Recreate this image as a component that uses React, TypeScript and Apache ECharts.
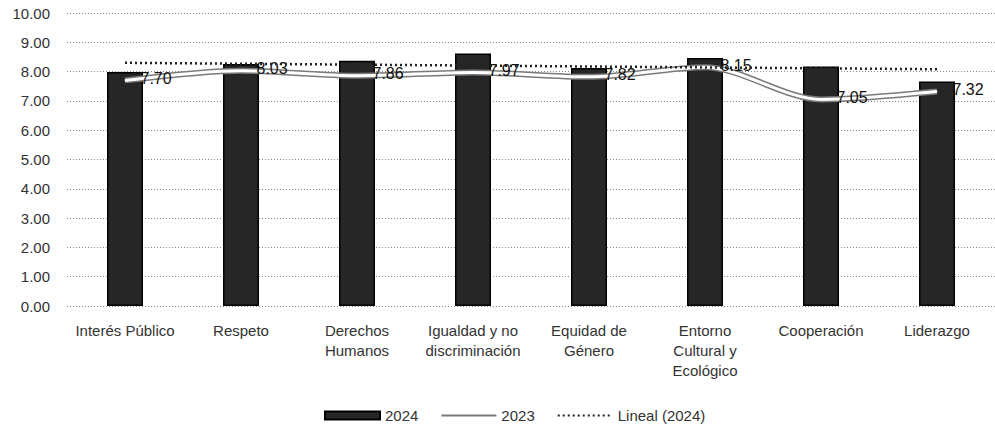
import React, { useEffect, useRef } from "react";
import * as echarts from "echarts";

const categories = [
  "Interés Público",
  "Respeto",
  "Derechos\nHumanos",
  "Igualdad y no\ndiscriminación",
  "Equidad de\nGénero",
  "Entorno\nCultural y\nEcológico",
  "Cooperación",
  "Liderazgo",
];
const values2024 = [7.99, 8.26, 8.37, 8.62, 8.12, 8.46, 8.17, 7.66];
const values2023 = [7.7, 8.03, 7.86, 7.97, 7.82, 8.15, 7.05, 7.32];
// Linear trend of 2024 read at its two ends
const trend2024: (number | null)[] = [8.3, null, null, null, null, null, null, 8.08];
const yMin = 0;
const yMax = 10;
const yStep = 1;

const FONT = "Liberation Sans, Arial, sans-serif";

export default function App() {
  const ref = useRef<HTMLDivElement>(null);
  useEffect(() => {
    document.body.style.margin = "0";
    if (!ref.current) return;
    const chart = echarts.init(ref.current, null, { renderer: "svg" });
    chart.setOption({
      animation: false,
      backgroundColor: "#ffffff",
      grid: { left: 67, top: 13, width: 936, height: 293, containLabel: false },
      legend: {
        data: [
          { name: "2024", icon: "rect" },
          { name: "2023", itemStyle: { opacity: 0 } },
          { name: "Lineal (2024)", itemStyle: { opacity: 0 } },
        ],
        left: 319,
        top: 403,
        itemWidth: 55,
        itemHeight: 8,
        itemGap: 22,
        textStyle: { fontFamily: FONT, fontSize: 15, color: "#333" },
      },
      xAxis: {
        type: "category",
        data: categories,
        axisLine: { show: false },
        axisTick: { show: false },
        axisLabel: {
          interval: 0,
          margin: 14,
          fontFamily: FONT,
          fontSize: 15,
          lineHeight: 20,
          color: "#333",
        },
      },
      yAxis: {
        type: "value",
        min: yMin,
        max: yMax,
        interval: yStep,
        axisLine: { show: false },
        axisTick: { show: false },
        axisLabel: {
          margin: 17,
          fontFamily: FONT,
          fontSize: 15,
          color: "#333",
          formatter: (v: number) => v.toFixed(2),
        },
        splitLine: { lineStyle: { color: "#8a8a8a", type: [1, 2], width: 1 } },
      },
      series: [
        {
          name: "2024",
          type: "bar",
          data: values2024,
          barWidth: 36,
          z: 2,
          itemStyle: { color: "#262626", borderColor: "#000", borderWidth: 1.5 },
        },
        {
          name: "2023",
          type: "line",
          data: values2023,
          smooth: 0.3,
          symbol: "none",
          z: 3,
          lineStyle: { color: "#7a7a7a", width: 6 },
          itemStyle: { color: "#9a9a9a" },
        },
        {
          name: "2023w",
          type: "line",
          data: values2023,
          smooth: 0.3,
          symbol: "circle",
          symbolSize: 1,
          z: 4,
          lineStyle: { color: "#ffffff", width: 3 },
          itemStyle: { color: "#ffffff" },
          label: {
            show: true,
            position: "right",
            distance: 15,
            offset: [0, -2],
            fontFamily: FONT,
            fontSize: 16,
            color: "#111",
            formatter: (p: any) => Number(p.value).toFixed(2),
          },
        },
        {
          name: "Lineal (2024)",
          type: "line",
          data: trend2024,
          connectNulls: true,
          symbol: "none",
          z: 5,
          lineStyle: { color: "#222", width: 2.5, type: [2, 3] },
          itemStyle: { color: "#222" },
        },
      ],
    });
    return () => chart.dispose();
  }, []);
  return <div ref={ref} style={{ width: 995, height: 425 }} />;
}
